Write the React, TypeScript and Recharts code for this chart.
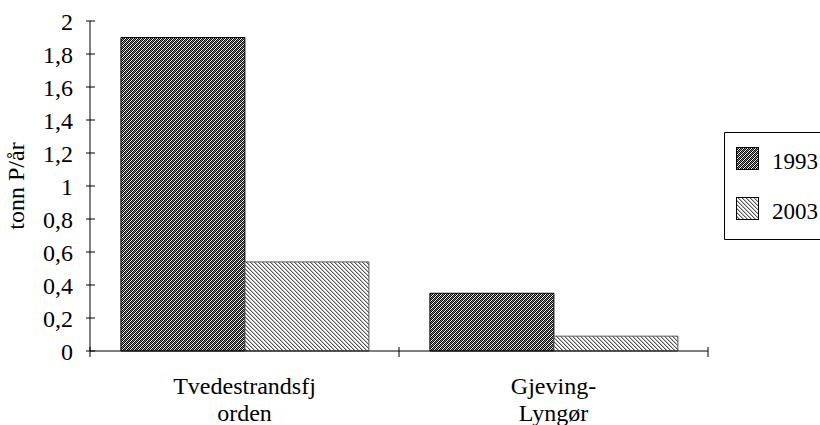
import React from 'react';
import { BarChart, Bar, XAxis, YAxis, Legend } from 'recharts';

// ---- data ----
const categories = ['Tvedestrandsfjorden', 'Gjeving-Lyngør'];
const categoryLabelLines = [
  ['Tvedestrandsfj', 'orden'],
  ['Gjeving-', 'Lyngør'],
];
const seriesNames = ['1993', '2003'];
const values1993 = [1.9, 0.35];
const values2003 = [0.54, 0.09];
const yTicks = [0, 0.2, 0.4, 0.6, 0.8, 1, 1.2, 1.4, 1.6, 1.8, 2];
const yAxisTitle = 'tonn P/år';

const data = categories.map((name, i) => ({
  name,
  y1993: values1993[i],
  y2003: values2003[i],
}));

// ---- layout / style ----
const FONT = "'Liberation Serif', 'Times New Roman', Times, serif";
const CHART_W = 820;
const CHART_H = 425;
const MARGIN = { top: 21, right: 112, bottom: 0, left: 0 };
const Y_AXIS_W = 90;
const X_AXIS_H = 74;
const PLOT_W = CHART_W - MARGIN.left - MARGIN.right - Y_AXIS_W;
const BAND = PLOT_W / categories.length;
const LEGEND_X = 724;
const LEGEND_Y = 132;
const LEGEND_W = CHART_W - LEGEND_X;
const LEGEND_H = 108;

const Patterns = ({ prefix }: { prefix: string }) => {
  const dark: React.ReactNode[] = [];
  const light: React.ReactNode[] = [];
  for (let r = 0; r < 4; r++) {
    for (let c = 0; c < 4; c++) {
      if ((r + c) % 2 === 0) {
        dark.push(<rect key={`a${r}-${c}`} x={c} y={r} width={1} height={1} fill="#000" />);
      } else if ((r + c) % 4 === 1) {
        dark.push(<rect key={`b${r}-${c}`} x={c} y={r} width={1} height={1} fill="#888" />);
      }
    }
    light.push(<rect key={`d${r}`} x={r} y={r} width={1} height={1} fill="#555" />);
    light.push(<rect key={`e${r}`} x={(r + 1) % 4} y={r} width={1} height={1} fill="#bbb" />);
  }
  return (
    <defs>
      <pattern id={`${prefix}1993`} width={4} height={4} patternUnits="userSpaceOnUse">
        <rect x={0} y={0} width={4} height={4} fill="#fff" />
        <g shapeRendering="crispEdges">{dark}</g>
      </pattern>
      <pattern id={`${prefix}2003`} width={4} height={4} patternUnits="userSpaceOnUse">
        <rect x={0} y={0} width={4} height={4} fill="#fff" />
        <g shapeRendering="crispEdges">{light}</g>
      </pattern>
    </defs>
  );
};

const YTick = (props: any) => {
  const { x, y, payload } = props;
  const label = String(payload.value).replace('.', ',');
  return (
    <g>
      <line x1={x - 4} x2={x + 5} y1={y} y2={y} stroke="#000" strokeWidth={1} />
      <text x={x - 17} y={y} dy="0.36em" textAnchor="end" fontFamily={FONT} fontSize={24} fill="#000">
        {label}
      </text>
    </g>
  );
};

const XTick = (props: any) => {
  const { x, y, payload } = props;
  const idx = payload.index ?? categories.indexOf(payload.value);
  const lines = categoryLabelLines[idx] || [String(payload.value)];
  const isLast = idx === categories.length - 1;
  return (
    <g>
      <line x1={x - BAND / 2} x2={x - BAND / 2} y1={y - 4} y2={y + 6} stroke="#000" strokeWidth={1} />
      {isLast && (
        <line x1={x + BAND / 2} x2={x + BAND / 2} y1={y - 4} y2={y + 6} stroke="#000" strokeWidth={1} />
      )}
      {lines.map((ln, i) => (
        <text key={i} x={x} y={y + 42.5 + i * 27} textAnchor="middle" fontFamily={FONT} fontSize={24} fill="#000">
          {ln}
        </text>
      ))}
    </g>
  );
};

const YLabel = (props: any) => {
  const vb = props.viewBox || { x: 0, y: 0, height: 0 };
  const cx = vb.x + 24;
  const cy = vb.y + vb.height / 2;
  return (
    <text
      x={cx}
      y={cy}
      transform={`rotate(-90, ${cx}, ${cy})`}
      textAnchor="middle"
      fontFamily={FONT}
      fontSize={24}
      fill="#000"
    >
      {yAxisTitle}
    </text>
  );
};

const renderLegend = () => (
  <svg width={LEGEND_W} height={LEGEND_H} style={{ display: 'block', overflow: 'hidden' }}>
    <Patterns prefix="lg-" />
    <rect x={0} y={0} width={LEGEND_W + 10} height={LEGEND_H} fill="#fff" />
    <path
      d={`M${LEGEND_W + 10},0.5 H0.5 V${LEGEND_H - 0.5} H${LEGEND_W + 10}`}
      fill="none"
      stroke="#000"
      strokeWidth={1}
    />
    {seriesNames.map((n, i) => (
      <g key={n}>
        <rect
          x={12.5}
          y={15.5 + 50 * i}
          width={22}
          height={22}
          fill={`url(#lg-${n})`}
          stroke="#000"
          strokeWidth={1}
        />
        <text x={48} y={37 + 50 * i} fontFamily={FONT} fontSize={23} fill="#000">
          {n}
        </text>
      </g>
    ))}
  </svg>
);

export default function App() {
  return (
    <div
      style={{
        position: 'absolute',
        left: 0,
        top: 0,
        width: CHART_W,
        height: CHART_H,
        overflow: 'hidden',
        background: '#fff',
      }}
    >
      <BarChart
        width={CHART_W}
        height={CHART_H}
        data={data}
        margin={MARGIN}
        barCategoryGap="10%"
        barGap={0}
      >
        <Patterns prefix="bar-" />
        <XAxis
          dataKey="name"
          height={X_AXIS_H}
          axisLine={{ stroke: '#000', strokeWidth: 1 }}
          tickLine={false}
          tickSize={0}
          tickMargin={0}
          tick={<XTick />}
          interval={0}
        />
        <YAxis
          width={Y_AXIS_W}
          domain={[0, 2]}
          ticks={yTicks}
          interval={0}
          axisLine={{ stroke: '#000', strokeWidth: 1 }}
          tickLine={false}
          tickSize={0}
          tickMargin={0}
          tick={<YTick />}
          label={<YLabel />}
        />
        <Legend
          layout="vertical"
          align="center"
          verticalAlign="middle"
          content={renderLegend}
          wrapperStyle={{
            position: 'absolute',
            left: LEGEND_X,
            top: LEGEND_Y,
            width: LEGEND_W,
            height: LEGEND_H,
            margin: 0,
            padding: 0,
          }}
        />
        <Bar
          dataKey="y1993"
          name="1993"
          fill="url(#bar-1993)"
          stroke="#000"
          strokeWidth={1}
          isAnimationActive={false}
        />
        <Bar
          dataKey="y2003"
          name="2003"
          fill="url(#bar-2003)"
          stroke="#555"
          strokeWidth={1}
          isAnimationActive={false}
        />
      </BarChart>
    </div>
  );
}
